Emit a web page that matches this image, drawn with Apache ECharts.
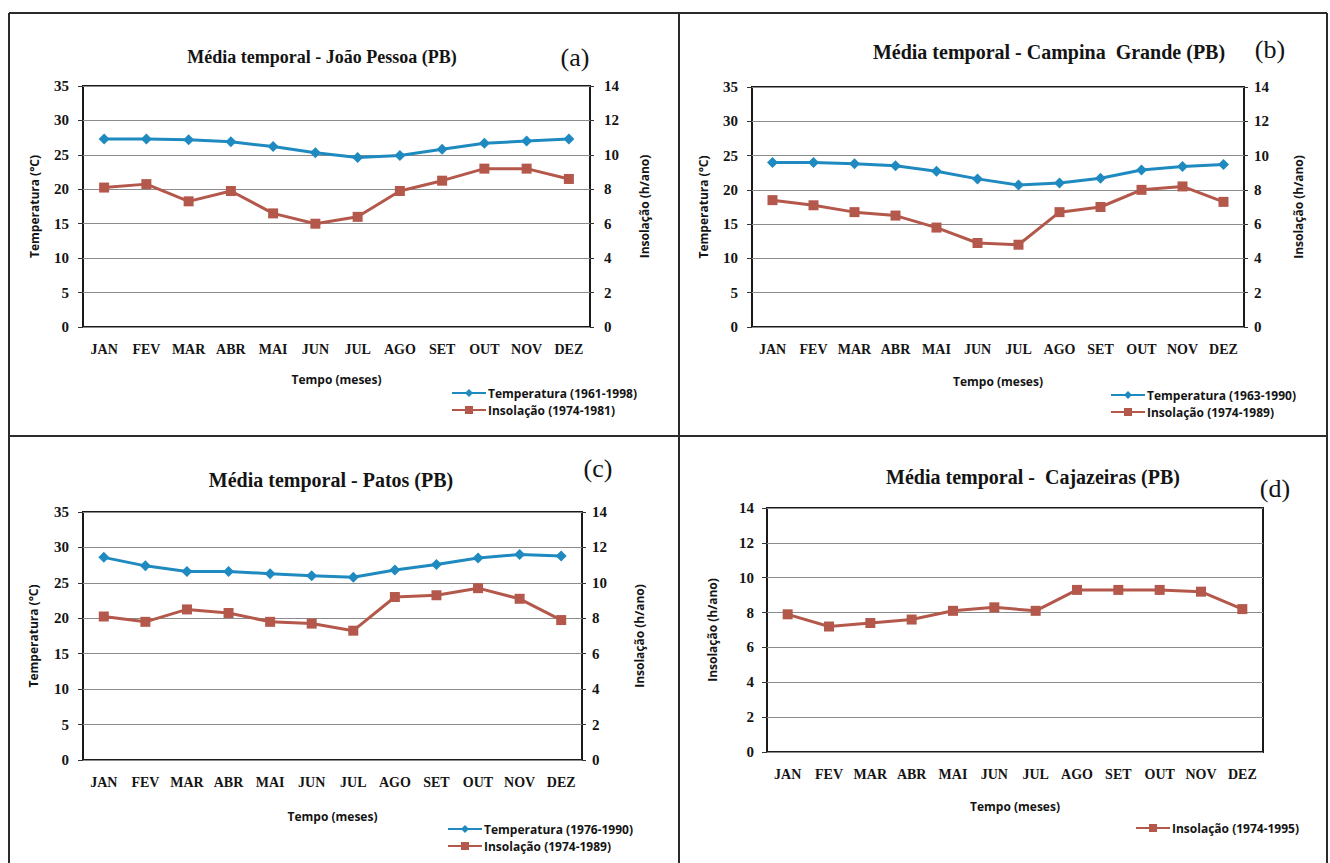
<!DOCTYPE html>
<html>
<head>
<meta charset="utf-8">
<script src="https://cdn.jsdelivr.net/npm/echarts@6/dist/echarts.min.js"></script>
<style>
  html, body { margin: 0; padding: 0; background: #ffffff; }
  #chart { width: 1330px; height: 863px; }
</style>
</head>
<body>
<div id="chart"></div>
<script>
// Monthly means for four stations in Paraíba
const months = ['JAN', 'FEV', 'MAR', 'ABR', 'MAI', 'JUN', 'JUL', 'AGO', 'SET', 'OUT', 'NOV', 'DEZ'];

// (a) João Pessoa
const tempJoaoPessoa  = [27.3, 27.3, 27.2, 26.9, 26.2, 25.3, 24.6, 24.9, 25.8, 26.7, 27.0, 27.3];
const insolJoaoPessoa = [8.1, 8.3, 7.3, 7.9, 6.6, 6.0, 6.4, 7.9, 8.5, 9.2, 9.2, 8.6];
// (b) Campina Grande
const tempCampina  = [24.0, 24.0, 23.8, 23.5, 22.7, 21.6, 20.7, 21.0, 21.7, 22.9, 23.4, 23.7];
const insolCampina = [7.4, 7.1, 6.7, 6.5, 5.8, 4.9, 4.8, 6.7, 7.0, 8.0, 8.2, 7.3];
// (c) Patos
const tempPatos  = [28.6, 27.4, 26.6, 26.6, 26.3, 26.0, 25.8, 26.8, 27.6, 28.5, 29.0, 28.8];
const insolPatos = [8.1, 7.8, 8.5, 8.3, 7.8, 7.7, 7.3, 9.2, 9.3, 9.7, 9.1, 7.9];
// (d) Cajazeiras
const insolCajazeiras = [7.9, 7.2, 7.4, 7.6, 8.1, 8.3, 8.1, 9.3, 9.3, 9.3, 9.2, 8.2];

const BLUE = '#1f8ac0';
const RED = '#b4584c';
const SERIF = '"Liberation Serif", "Times New Roman", serif';
const SANS = '"Open Sans", Lato, sans-serif';
const INK = '#141414';

// Layout for each panel (pixels)
const panels = [
  { grid: { left: 83, top: 86, width: 507, height: 241 },
    title: 'Média temporal - João Pessoa (PB)', titleSize: 18, tx: 322, ty: 57, tag: '(a)', gx: 575, gy: 57,
    legend: { left: 451, top: 387 }, leftGap: 43, rightGap: 48, rightMargin: 14, xGap: 46,
    temp: { name: 'Temperatura (1961-1998)', data: tempJoaoPessoa },
    insol: { name: 'Insolação (1974-1981)', data: insolJoaoPessoa } },
  { grid: { left: 752, top: 87, width: 492, height: 240 },
    title: 'Média temporal - Campina  Grande (PB)', titleSize: 20, tx: 1049, ty: 52, tag: '(b)', gx: 1270, gy: 49,
    legend: { left: 1110, top: 389 }, leftGap: 43, rightGap: 48, rightMargin: 10, xGap: 48,
    temp: { name: 'Temperatura (1963-1990)', data: tempCampina },
    insol: { name: 'Insolação (1974-1989)', data: insolCampina } },
  { grid: { left: 83, top: 512, width: 499, height: 248 },
    title: 'Média temporal - Patos (PB)', titleSize: 20, tx: 331, ty: 480, tag: '(c)', gx: 598, gy: 468,
    legend: { left: 447, top: 823 }, leftGap: 44, rightGap: 51, rightMargin: 10, xGap: 50,
    temp: { name: 'Temperatura (1976-1990)', data: tempPatos },
    insol: { name: 'Insolação (1974-1989)', data: insolPatos } },
  { grid: { left: 767, top: 508, width: 496, height: 244 },
    title: 'Média temporal -  Cajazeiras (PB)', titleSize: 20, tx: 1033, ty: 477, tag: '(d)', gx: 1275, gy: 488,
    legend: { left: 1135, top: 822 }, leftGap: 49, xGap: 48,
    temp: null,
    insol: { name: 'Insolação (1974-1995)', data: insolCajazeiras } }
];

const tickLabel = (margin, size) => ({
  fontFamily: SERIF, fontWeight: 'bold', fontSize: size || 15, color: INK, margin: margin
});
const axisNameStyle = { fontFamily: SANS, fontWeight: 'bold', fontSize: 12, color: INK };

const grids = [], xAxes = [], yAxes = [], series = [], legends = [], graphics = [];

panels.forEach((p, i) => {
  grids.push(Object.assign({ show: true, borderColor: '#1a1a1a', borderWidth: 2, backgroundColor: 'transparent' }, p.grid));

  xAxes.push({
    type: 'category', gridIndex: i, data: months, boundaryGap: true,
    axisLine: { show: false }, axisTick: { show: false },
    axisLabel: Object.assign(tickLabel(15, 14), { interval: 0 }),
    name: 'Tempo (meses)', nameLocation: 'middle', nameGap: p.xGap, nameTextStyle: axisNameStyle
  });

  const leftIdx = yAxes.length;
  if (p.temp) {
    yAxes.push({
      type: 'value', gridIndex: i, position: 'left', min: 0, max: 35, interval: 5,
      axisLine: { show: false },
      axisTick: { show: true, length: 5, lineStyle: { color: '#333' } },
      axisLabel: tickLabel(14),
      splitLine: { show: true, lineStyle: { color: '#8c8c8c', width: 1 } },
      name: 'Temperatura (°C)', nameLocation: 'middle', nameRotate: 90, nameGap: p.leftGap,
      nameTextStyle: axisNameStyle
    });
    yAxes.push({
      type: 'value', gridIndex: i, position: 'right', min: 0, max: 14, interval: 2,
      axisLine: { show: false },
      axisTick: { show: true, length: 4, lineStyle: { color: '#333' } },
      axisLabel: tickLabel(p.rightMargin),
      splitLine: { show: false },
      name: 'Insolação (h/ano)', nameLocation: 'middle', nameRotate: 90, nameGap: p.rightGap,
      nameTextStyle: axisNameStyle
    });
    series.push({
      type: 'line', name: p.temp.name, xAxisIndex: i, yAxisIndex: leftIdx, data: p.temp.data,
      symbol: 'diamond', symbolSize: 11, color: BLUE,
      lineStyle: { width: 3, color: BLUE }, itemStyle: { color: BLUE }
    });
    series.push({
      type: 'line', name: p.insol.name, xAxisIndex: i, yAxisIndex: leftIdx + 1, data: p.insol.data,
      symbol: 'rect', symbolSize: 10, color: RED,
      lineStyle: { width: 3, color: RED }, itemStyle: { color: RED }
    });
  } else {
    yAxes.push({
      type: 'value', gridIndex: i, position: 'left', min: 0, max: 14, interval: 2,
      axisLine: { show: false },
      axisTick: { show: true, length: 5, lineStyle: { color: '#333' } },
      axisLabel: tickLabel(13),
      splitLine: { show: true, lineStyle: { color: '#8c8c8c', width: 1 } },
      name: 'Insolação (h/ano)', nameLocation: 'middle', nameRotate: 90, nameGap: p.leftGap,
      nameTextStyle: axisNameStyle
    });
    series.push({
      type: 'line', name: p.insol.name, xAxisIndex: i, yAxisIndex: leftIdx, data: p.insol.data,
      symbol: 'rect', symbolSize: 10, color: RED,
      lineStyle: { width: 3, color: RED }, itemStyle: { color: RED }
    });
  }

  legends.push({
    left: p.legend.left, top: p.legend.top, orient: 'vertical',
    itemWidth: 34, itemHeight: 10, itemGap: 5, padding: 0,
    data: p.temp ? [p.temp.name, p.insol.name] : [p.insol.name],
    textStyle: { fontFamily: SANS, fontWeight: 'bold', fontSize: 12, color: INK, padding: [0, 0, 0, -3] },
    selectedMode: false
  });

  graphics.push({
    type: 'text', x: p.tx, y: p.ty, silent: true,
    style: { text: p.title, font: 'bold ' + p.titleSize + 'px ' + SERIF, fill: INK, align: 'center', verticalAlign: 'middle' }
  });
  graphics.push({
    type: 'text', x: p.gx, y: p.gy, silent: true,
    style: { text: p.tag, font: '26px ' + SERIF, fill: INK, align: 'center', verticalAlign: 'middle' }
  });
});

// Frame lines separating the four panels
const frameLines = [
  [9, 13, 1327, 13],
  [9, 13, 9, 863],
  [1327, 13, 1327, 863],
  [679, 13, 679, 863],
  [9, 436, 1327, 436]
];
frameLines.forEach(([x1, y1, x2, y2]) => {
  graphics.push({
    type: 'line', silent: true, z: 10,
    shape: { x1, y1, x2, y2 },
    style: { stroke: '#2b2b2b', lineWidth: 2 }
  });
});

const chart = echarts.init(document.getElementById('chart'), null, { renderer: 'svg' });
chart.setOption({
  animation: false,
  backgroundColor: '#ffffff',
  grid: grids,
  xAxis: xAxes,
  yAxis: yAxes,
  legend: legends,
  series: series,
  graphic: graphics
});
</script>
</body>
</html>
